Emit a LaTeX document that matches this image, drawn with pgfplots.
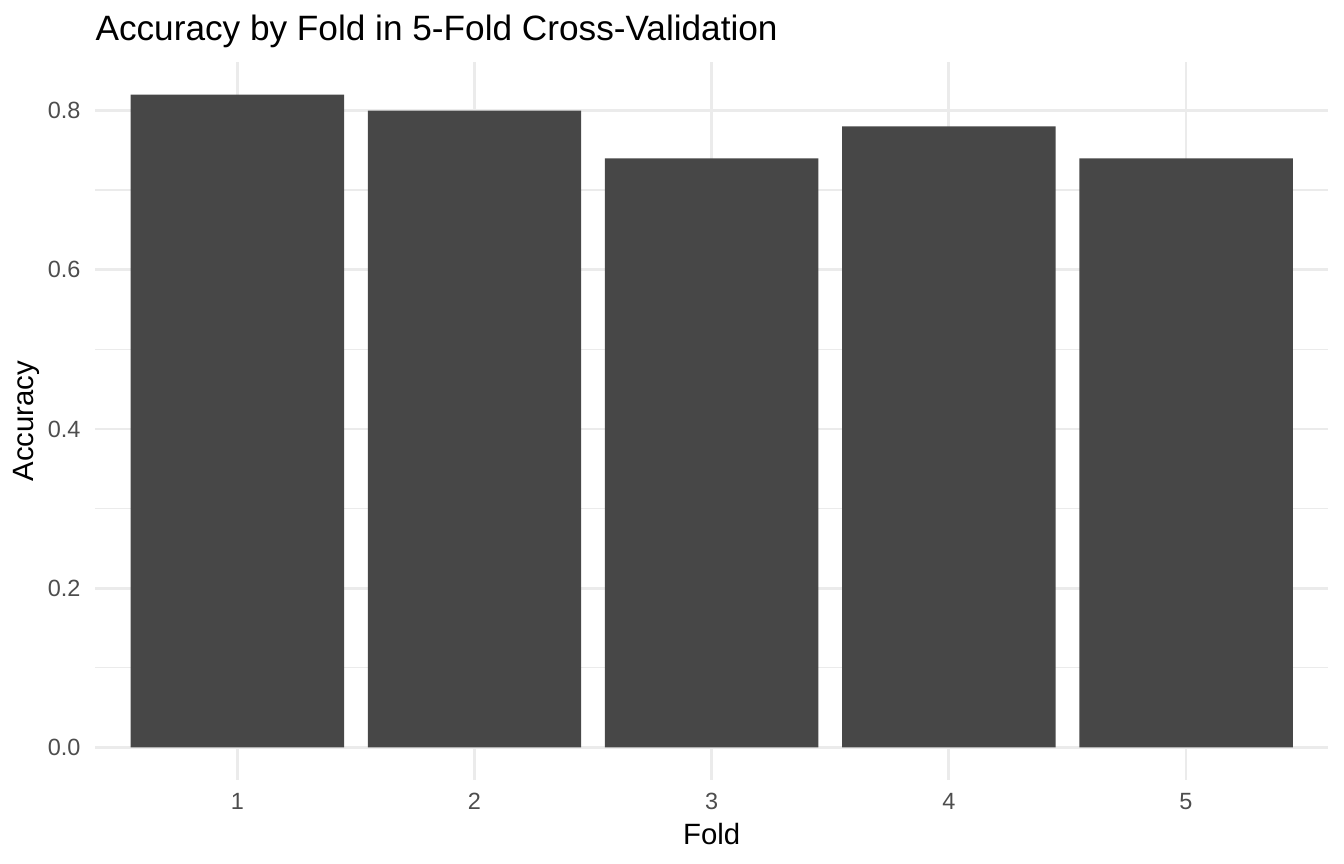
\documentclass[border=0pt]{standalone}
\usepackage{fontspec}
\setmainfont{Liberation Sans}
\usepackage{pgfplots}
\pgfplotsset{compat=1.18}
\definecolor{barcol}{HTML}{474747}
\definecolor{gridcol}{HTML}{EBEBEB}
\definecolor{tickcol}{HTML}{4D4D4D}
\begin{document}
\begin{tikzpicture}
\useasboundingbox (0,0) rectangle (504bp,324bp);
\begin{axis}[
  at={(35.625bp,31.5bp)}, anchor=south west,
  scale only axis, width=462.5bp, height=269.25bp,
  xmin=0.4, xmax=5.6, ymin=-0.041, ymax=0.861,
  xtick={1,2,3,4,5}, xticklabels={1,2,3,4,5},
  ytick={0,0.2,0.4,0.6,0.8}, yticklabels={0.0,0.2,0.4,0.6,0.8},
  minor ytick={0.1,0.3,0.5,0.7},
  grid=both,
  major grid style={draw=gridcol, line width=1.07bp},
  minor grid style={draw=gridcol, line width=0.53bp},
  axis line style={draw=none},
  tick style={draw=none},
  major tick length=0pt, minor tick length=0pt,
  /pgf/number format/assume math mode=true,
  tick label style={font=\fontsize{8.8bp}{10bp}\selectfont, text=tickcol, inner sep=0pt},
  yticklabel style={anchor=east, xshift=-5.25bp},
  xticklabel style={anchor=north, yshift=-4.875bp},
]
\addplot[ybar, bar width=0.9, fill=barcol, draw=none] coordinates {
  (1,0.82) (2,0.80) (3,0.74) (4,0.78) (5,0.74)
};
\end{axis}
\node[anchor=base west, inner sep=0pt, font=\fontsize{13.2bp}{15bp}\selectfont] at (35.625bp,308.7bp) {Accuracy by Fold in 5-Fold Cross-Validation};
\node[anchor=base, inner sep=0pt, font=\fontsize{11bp}{13bp}\selectfont] at (266.875bp,7.39bp) {Fold};
\node[anchor=base, rotate=90, inner sep=0pt, font=\fontsize{11bp}{13bp}\selectfont] at (12.375bp,166.1bp) {Accuracy};
\end{tikzpicture}
\end{document}
